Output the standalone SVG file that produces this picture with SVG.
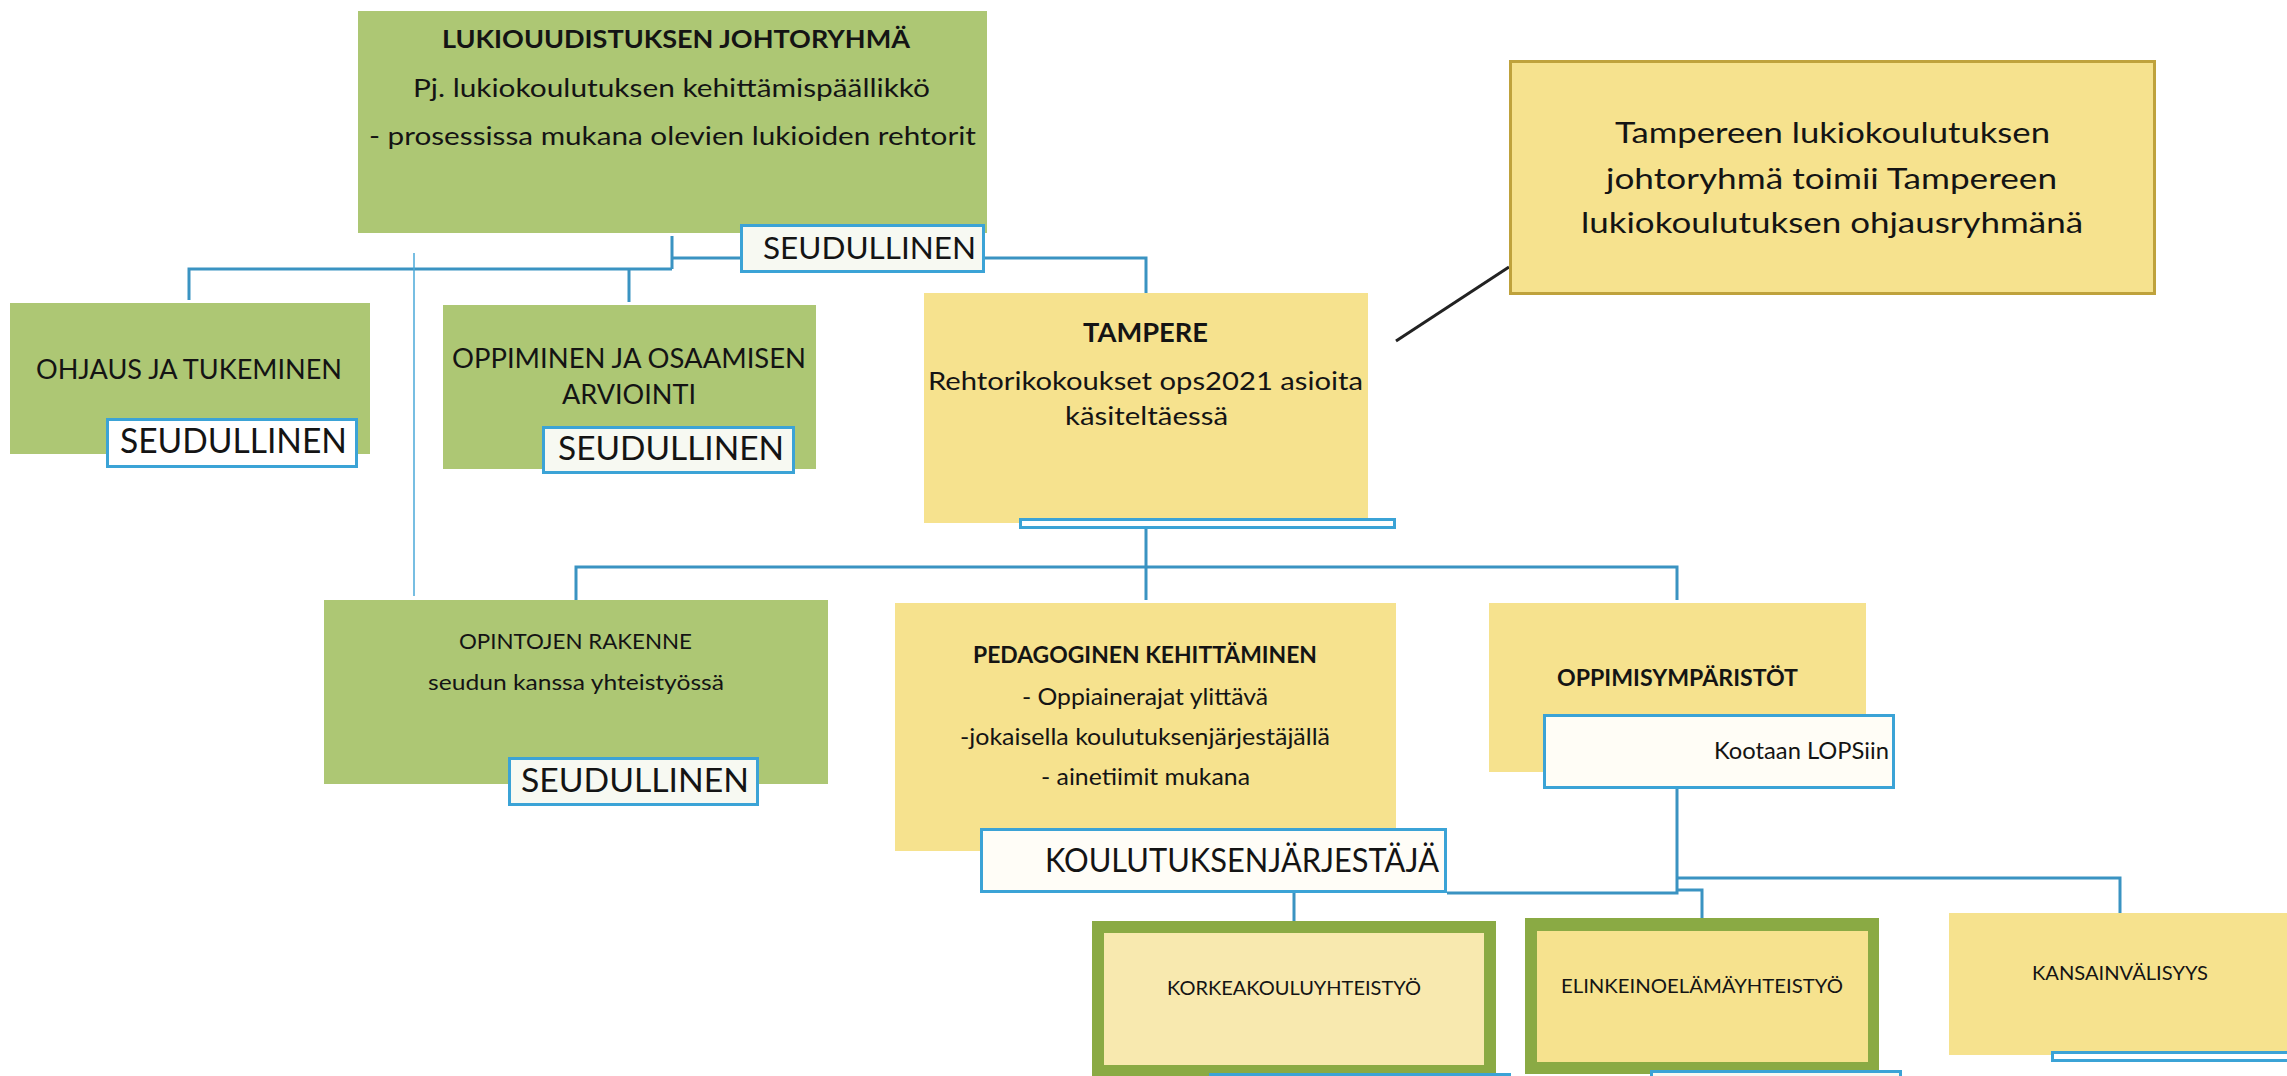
<svg xmlns="http://www.w3.org/2000/svg" width="2287" height="1076" viewBox="0 0 2287 1076">
<style>
.t{font-family:Lato,"Liberation Sans",sans-serif;fill:#141414}
.b{font-weight:bold}
.g{fill:#ADC774}
.y{fill:#F6E28E}
.lbl{stroke:#3BA3D6;stroke-width:3}
.con{fill:none;stroke:#3A93C2;stroke-width:3}
</style>
<g id="connectors">
<path class="con" d="M672 236V269M189 300V269H672M629 269V302M672 258H741M985 258H1146V293"/>
<path fill="none" stroke="#4AA8D8" stroke-width="1.5" d="M414 253V596"/>
<path class="con" d="M1146 529V600M576 600V567H1677V600"/>
<path class="con" d="M1677 789V893H1447M1677 878H2120V913M1677 890H1702V918M1294 893V921"/>
<path fill="none" stroke="#222" stroke-width="3" d="M1509 267L1396 341"/>
</g>
<g id="johtoryhma">
<rect class="g" x="358" y="11" width="629" height="222"/>
<text class="t b" x="442" y="48" font-size="25.5" textLength="468" lengthAdjust="spacingAndGlyphs">LUKIOUUDISTUKSEN JOHTORYHMÄ</text>
<text class="t" x="413" y="97" font-size="25.5" textLength="517" lengthAdjust="spacingAndGlyphs">Pj. lukiokoulutuksen kehittämispäällikkö</text>
<text class="t" x="369" y="145" font-size="25.5" textLength="607" lengthAdjust="spacingAndGlyphs">- prosessissa mukana olevien lukioiden rehtorit</text>
<rect class="lbl" x="741.5" y="225.5" width="242" height="46" fill="#F7F9F2"/>
<text class="t" x="763" y="259" font-size="30.5" textLength="213" lengthAdjust="spacingAndGlyphs">SEUDULLINEN</text>
</g>
<g id="callout">
<rect x="1510.5" y="61.5" width="644" height="232" fill="#F6E28E" stroke="#BFA23C" stroke-width="3"/>
<text class="t" x="1615" y="143" font-size="29" textLength="435" lengthAdjust="spacingAndGlyphs">Tampereen lukiokoulutuksen</text>
<text class="t" x="1606" y="189" font-size="29" textLength="451" lengthAdjust="spacingAndGlyphs">johtoryhmä toimii Tampereen</text>
<text class="t" x="1581" y="233" font-size="29" textLength="502" lengthAdjust="spacingAndGlyphs">lukiokoulutuksen ohjausryhmänä</text>
</g>
<g id="ohjaus">
<rect class="g" x="10" y="303" width="360" height="151"/>
<text class="t" x="36" y="379" font-size="27" textLength="306" lengthAdjust="spacingAndGlyphs">OHJAUS JA TUKEMINEN</text>
<rect class="lbl" x="107.5" y="419.5" width="249" height="47" fill="#FFFFFF"/>
<text class="t" x="120" y="453" font-size="34" textLength="227" lengthAdjust="spacingAndGlyphs">SEUDULLINEN</text>
</g>
<g id="oppiminen">
<rect class="g" x="443" y="305" width="373" height="164"/>
<text class="t" x="452" y="368" font-size="26" textLength="354" lengthAdjust="spacingAndGlyphs">OPPIMINEN JA OSAAMISEN</text>
<text class="t" x="562" y="404" font-size="26" textLength="134" lengthAdjust="spacingAndGlyphs">ARVIOINTI</text>
<rect class="lbl" x="543.5" y="427.5" width="250" height="45" fill="#F7F9F2"/>
<text class="t" x="558" y="460" font-size="33" textLength="226" lengthAdjust="spacingAndGlyphs">SEUDULLINEN</text>
</g>
<g id="tampere">
<rect class="y" x="924" y="293" width="444" height="230"/>
<text class="t b" x="1083" y="342" font-size="26.5" textLength="125" lengthAdjust="spacingAndGlyphs">TAMPERE</text>
<text class="t" x="928" y="390" font-size="25.5" textLength="435" lengthAdjust="spacingAndGlyphs">Rehtorikokoukset ops2021 asioita</text>
<text class="t" x="1065" y="425" font-size="25.5" textLength="163" lengthAdjust="spacingAndGlyphs">käsiteltäessä</text>
<rect class="lbl" x="1020.5" y="519.5" width="374" height="8" fill="#FFFFFF"/>
</g>
<g id="opintojen">
<rect class="g" x="324" y="600" width="504" height="184"/>
<text class="t" x="459" y="649" font-size="22" textLength="233" lengthAdjust="spacingAndGlyphs">OPINTOJEN RAKENNE</text>
<text class="t" x="428" y="690" font-size="22" textLength="296" lengthAdjust="spacingAndGlyphs">seudun kanssa yhteistyössä</text>
<rect class="lbl" x="509.5" y="758.5" width="248" height="46" fill="#F7F9F2"/>
<text class="t" x="521" y="792" font-size="33" textLength="228" lengthAdjust="spacingAndGlyphs">SEUDULLINEN</text>
</g>
<g id="pedagoginen">
<rect class="y" x="895" y="603" width="501" height="248"/>
<text class="t b" x="973" y="663" font-size="23" textLength="344" lengthAdjust="spacingAndGlyphs">PEDAGOGINEN KEHITTÄMINEN</text>
<text class="t" x="1022" y="705" font-size="23" textLength="246" lengthAdjust="spacingAndGlyphs">- Oppiainerajat ylittävä</text>
<text class="t" x="960" y="745" font-size="23" textLength="370" lengthAdjust="spacingAndGlyphs">-jokaisella koulutuksenjärjestäjällä</text>
<text class="t" x="1041" y="785" font-size="23" textLength="209" lengthAdjust="spacingAndGlyphs">- ainetiimit mukana</text>
<rect class="lbl" x="981.5" y="829.5" width="464" height="62" fill="#FFFDF7"/>
<text class="t" x="1045" y="872" font-size="33.5" textLength="394" lengthAdjust="spacingAndGlyphs">KOULUTUKSENJÄRJESTÄJÄ</text>
</g>
<g id="oppimisymparistot">
<rect class="y" x="1489" y="603" width="377" height="169"/>
<text class="t b" x="1557" y="686" font-size="22" textLength="241" lengthAdjust="spacingAndGlyphs">OPPIMISYMPÄRISTÖT</text>
<rect class="lbl" x="1544.5" y="715.5" width="349" height="72" fill="#FFFDF6"/>
<text class="t" x="1714" y="759" font-size="23" textLength="175" lengthAdjust="spacingAndGlyphs">Kootaan LOPSiin</text>
</g>
<g id="korkeakoulu">
<rect x="1092" y="921" width="404" height="160" fill="#8AAA44"/>
<rect x="1104" y="933" width="380" height="132" fill="#F8E9AF"/>
<text class="t" x="1167" y="995" font-size="18.6" textLength="254" lengthAdjust="spacingAndGlyphs">KORKEAKOULUYHTEISTYÖ</text>
<rect class="lbl" x="1210.5" y="1074.5" width="299" height="20" fill="#FFFFFF"/>
</g>
<g id="elinkeino">
<rect x="1525" y="918" width="354" height="156" fill="#8AAA44"/>
<rect x="1537" y="931" width="331" height="131" fill="#F6E28E"/>
<text class="t" x="1561" y="993" font-size="19.5" textLength="282" lengthAdjust="spacingAndGlyphs">ELINKEINOELÄMÄYHTEISTYÖ</text>
<rect class="lbl" x="1651.5" y="1071.5" width="249" height="20" fill="#F7F9F2"/>
</g>
<g id="kansainvalisyys">
<rect class="y" x="1949" y="913" width="345" height="142"/>
<text class="t" x="2032" y="980" font-size="18.6" textLength="176" lengthAdjust="spacingAndGlyphs">KANSAINVÄLISYYS</text>
<rect class="lbl" x="2052.5" y="1052.5" width="250" height="8" fill="#FFFFFF"/>
</g>
</svg>
